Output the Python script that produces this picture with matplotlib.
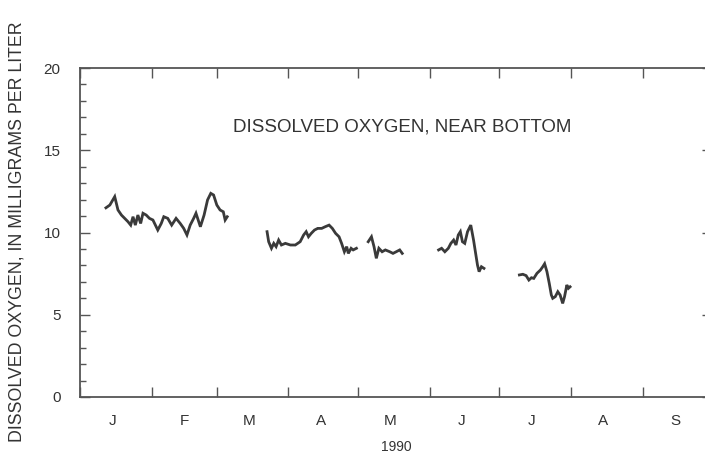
import matplotlib
matplotlib.use('Agg')
import matplotlib.pyplot as plt
import matplotlib.dates as mdates
import numpy as np
import datetime as dt

plt.rcParams['font.family'] = ['Liberation Sans', 'DejaVu Sans']

# days after Jan 1 1990 (mg/L), one list per record segment
seg1_day = [11.2, 12.9, 15.0, 16.4, 17.9, 19.3, 20.7, 21.9, 22.9, 23.9, 25.0, 26.2, 27.2, 28.6, 30.0, 31.5,
            33.6, 35.1, 36.2, 37.9, 39.6, 41.5, 43.3, 44.8, 46.2, 47.6, 49.1, 50.1, 52.0, 53.6, 55.1, 56.5,
            57.7, 59.1, 60.5, 61.9, 62.7, 63.6]
seg1_val = [11.5, 11.67, 12.18, 11.37, 11.06, 10.86, 10.66, 10.45, 10.96, 10.45, 11.06, 10.55, 11.17, 11.06,
            10.86, 10.76, 10.15, 10.55, 10.96, 10.86, 10.45, 10.86, 10.55, 10.25, 9.85, 10.45, 10.86, 11.17,
            10.35, 11.06, 11.98, 12.38, 12.28, 11.67, 11.37, 11.26, 10.76, 10.96]
seg2_day = [80.8, 81.5, 82.7, 83.7, 84.7, 85.8, 87.0, 88.7, 90.9, 93.0, 95.1, 96.6, 97.7, 98.7, 99.9, 101.3,
            102.7, 104.4, 105.9, 107.6, 109.0, 110.4, 111.9, 113.0, 114.2, 115.2, 115.9, 117.1, 118.0, 119.4]
seg2_val = [10.05, 9.44, 9.04, 9.34, 9.14, 9.54, 9.24, 9.34, 9.24, 9.24, 9.44, 9.85, 10.05, 9.74, 9.95, 10.15,
            10.25, 10.25, 10.35, 10.45, 10.25, 9.95, 9.74, 9.34, 8.83, 9.14, 8.73, 9.04, 8.94, 9.04]
seg3_day = [124.5, 125.9, 127.0, 128.0, 129.1, 130.5, 131.9, 133.8, 135.2, 136.6, 138.1, 139.2]
seg3_val = [9.44, 9.74, 9.14, 8.43, 9.04, 8.83, 8.94, 8.83, 8.73, 8.83, 8.94, 8.73]
seg4_day = [154.9, 156.2, 157.6, 159.1, 160.2, 161.4, 162.4, 163.4, 164.3, 165.2, 166.2, 167.4, 168.8, 170.0,
            170.9, 171.7, 172.4, 173.4, 174.5]
seg4_val = [8.94, 9.04, 8.83, 9.04, 9.34, 9.54, 9.24, 9.85, 10.05, 9.44, 9.34, 10.05, 10.45, 9.54, 8.73, 8.02,
            7.62, 7.92, 7.82]
seg5_day = [189.8, 191.3, 192.7, 193.9, 195.0, 196.0, 197.4, 198.9, 199.9, 200.7, 201.7, 202.7, 203.6, 204.2,
            205.3, 206.4, 207.4, 208.5, 209.3, 210.3, 211.0, 211.7]
seg5_val = [7.42, 7.46, 7.38, 7.11, 7.25, 7.21, 7.52, 7.72, 7.92, 8.1, 7.62, 6.91, 6.2, 6.0, 6.1, 6.4, 6.2,
            5.69, 6.1, 6.81, 6.61, 6.7]

month_labels = ['J', 'F', 'M', 'A', 'M', 'J', 'J', 'A', 'S']

start = dt.datetime(1990, 1, 1)
ink = '#3a3a3a'

fig = plt.figure(figsize=(7.05, 4.59), dpi=100)
ax = fig.add_axes([80 / 705, 1 - 397 / 459, 632 / 705, 329 / 459])

for d, v in [(seg1_day, seg1_val), (seg2_day, seg2_val), (seg3_day, seg3_val),
             (seg4_day, seg4_val), (seg5_day, seg5_val)]:
    x = [start + dt.timedelta(days=k) for k in d]
    ax.plot(x, v, color=ink, lw=2.0, solid_joinstyle='miter')

ax.set_xlim(start, dt.datetime(1990, 10, 1))
ax.set_ylim(0, 20)

# month boundaries as ticks, letters centred mid-month
ax.xaxis.set_major_locator(mdates.MonthLocator())
ax.xaxis.set_major_formatter(plt.NullFormatter())
ax.set_xticks([dt.datetime(1990, m, 15) for m in range(1, 10)], minor=True)
ax.set_xticklabels(month_labels, minor=True)
ax.tick_params(axis='x', which='major', direction='in', length=7, width=1, color='#555555',
               top=True, bottom=True)
ax.tick_params(axis='x', which='minor', length=0, pad=12, labelsize=11, labelcolor='#333333')

ax.set_yticks([0, 5, 10, 15, 20])
ax.set_yticks(np.arange(0, 21, 1), minor=True)
ax.tick_params(axis='y', which='major', direction='in', length=7, width=1, color='#555555',
               left=True, right=True, pad=14, labelsize=11, labelcolor='#333333')
ax.tick_params(axis='y', which='minor', direction='in', length=4, width=1, color='#555555',
               left=True, right=True)

for s in ax.spines.values():
    s.set_color('#555555')
    s.set_linewidth(1.3)

ax.text(0.51, 0.82, 'DISSOLVED OXYGEN, NEAR BOTTOM', transform=ax.transAxes,
        ha='center', va='center', fontsize=13.5, color='#333333')
ax.set_xlabel('1990', fontsize=10, color='#333333', labelpad=9)
fig.text(17 / 705, 0.495, 'DISSOLVED OXYGEN, IN MILLIGRAMS PER LITER', rotation=90,
         ha='center', va='center', fontsize=12.8, color='#333333')

fig.savefig('out.png', dpi=100)
